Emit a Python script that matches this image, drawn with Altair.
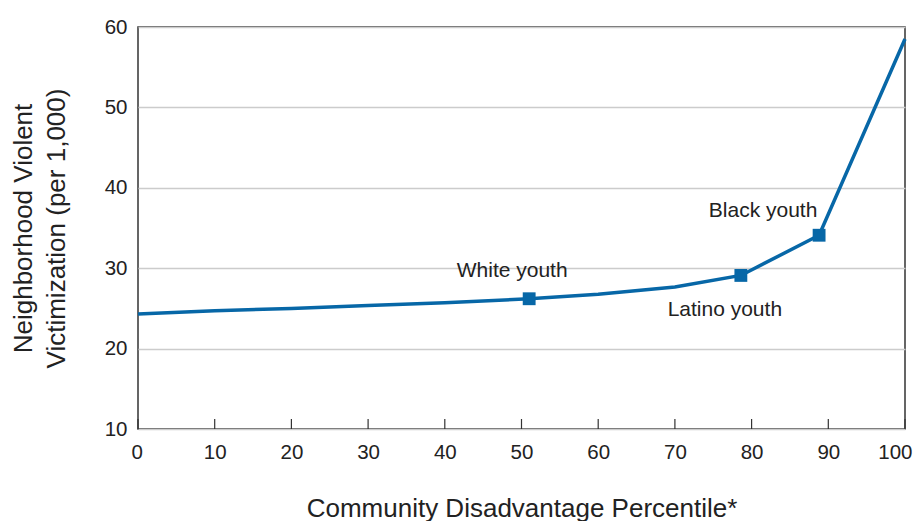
import altair as alt
import pandas as pd

# Data
percentile = [0, 10, 20, 30, 40, 51, 60, 70, 78.6, 88.8, 100]
victimization = [24.3, 24.7, 25.0, 25.35, 25.7, 26.2, 26.75, 27.65, 29.1, 34.1, 58.5]

groups = ["White youth", "Latino youth", "Black youth"]
group_percentile = [51, 78.6, 88.8]
group_victimization = [26.2, 29.1, 34.1]

x_ticks = [0, 10, 20, 30, 40, 50, 60, 70, 80, 90, 100]

line_df = pd.DataFrame({"p": percentile, "v": victimization})
pts_df = pd.DataFrame({"g": groups, "p": group_percentile, "v": group_victimization})
ticks_df = pd.DataFrame({"t": x_ticks})

W, H = 767, 402
BLUE = "#0767a7"
FONT = "Liberation Sans"

x_enc = alt.X("p:Q", scale=alt.Scale(domain=[0, 100], nice=False),
              axis=alt.Axis(values=x_ticks, title="Community Disadvantage Percentile*",
                            grid=False, ticks=False, domain=False,
                            labelFlush=True, labelFlushOffset=7,
                            labelFontSize=20.5, labelPadding=13, labelColor="#222",
                            labelFont=FONT, titleFont=FONT, titleFontSize=26,
                            titleFontWeight="normal", titleColor="#222",
                            titleY=79, titleBaseline="middle"))
y_enc = alt.Y("v:Q", scale=alt.Scale(domain=[10, 60], nice=False),
              axis=alt.Axis(values=[10, 20, 30, 40, 50, 60],
                            title=["Neighborhood Violent", "Victimization (per 1,000)"],
                            grid=True, gridColor="#cccccc", gridWidth=1.5,
                            ticks=False, domain=False, labelFlush=False,
                            labelFontSize=20.5, labelPadding=11, labelColor="#222",
                            labelFont=FONT, titleFont=FONT, titleFontSize=26,
                            titleFontWeight="normal", titleColor="#222",
                            titleLineHeight=33, titleAngle=270,
                            titleX=-115, titleY=H / 2,
                            titleAlign="center", titleBaseline="middle"))

line = alt.Chart(line_df).mark_line(color=BLUE, strokeWidth=3.5).encode(x=x_enc, y=y_enc)

points = alt.Chart(pts_df).mark_point(shape="square", filled=True, size=165,
                                      color=BLUE, opacity=1).encode(x="p:Q", y="v:Q")

ticks = alt.Chart(ticks_df).mark_rule(color="#333", strokeWidth=1.2).encode(
    x="t:Q", y=alt.value(H - 10), y2=alt.value(H))

offsets = {"White youth": (-17, -28), "Latino youth": (-16, 35), "Black youth": (-56, -24)}
labels = []
for g in groups:
    dx, dy = offsets[g]
    labels.append(
        alt.Chart(pts_df).transform_filter(alt.datum.g == g).mark_text(
            font=FONT, fontSize=21, color="#222", dx=dx, dy=dy,
            align="center", baseline="middle"
        ).encode(x="p:Q", y="v:Q", text="g:N")
    )

chart = alt.layer(line, ticks, points, *labels).properties(
    width=W, height=H,
    autosize=alt.AutoSizeParams(type="none"),
    padding={"left": 130, "top": 19, "right": 9, "bottom": 92},
).configure_view(stroke="#333", strokeWidth=1.5)

chart.save("out.html", embed_options={"renderer": "svg", "actions": False})
